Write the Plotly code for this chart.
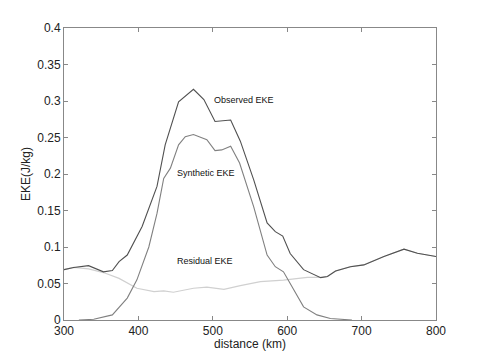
import plotly.graph_objects as go

obs_x = [300, 313, 333, 353, 365, 374, 385, 405, 425, 436, 454, 474, 488, 503, 524, 537, 555, 573, 584, 594, 604, 622, 645, 654, 665, 685, 703, 730, 757, 775, 800]
obs_y = [0.069, 0.072, 0.0745, 0.066, 0.0677, 0.080, 0.089, 0.128, 0.183, 0.240, 0.299, 0.316, 0.302, 0.272, 0.274, 0.245, 0.192, 0.133, 0.121, 0.115, 0.091, 0.069, 0.058, 0.0595, 0.067, 0.073, 0.0755, 0.087, 0.097, 0.0914, 0.087]

syn_x = [320, 340, 365, 374, 385, 398, 414, 425, 434, 443, 454, 463, 474, 492, 503, 512, 524, 536, 555, 573, 584, 595, 609, 622, 640, 658, 687]
syn_y = [0.0, 0.001, 0.007, 0.018, 0.030, 0.055, 0.100, 0.146, 0.194, 0.208, 0.240, 0.251, 0.254, 0.247, 0.232, 0.233, 0.238, 0.215, 0.155, 0.089, 0.073, 0.066, 0.041, 0.018, 0.007, 0.002, 0.0]

res_x = [300, 313, 333, 353, 374, 398, 421, 434, 447, 474, 492, 515, 537, 564, 595, 627, 645, 654, 665, 685, 703, 730, 757, 775, 800]
res_y = [0.069, 0.072, 0.0700, 0.065, 0.057, 0.0435, 0.039, 0.040, 0.038, 0.0435, 0.045, 0.042, 0.047, 0.0525, 0.0545, 0.0585, 0.0585, 0.0595, 0.067, 0.073, 0.0755, 0.087, 0.097, 0.0914, 0.087]

x_ticks = [300, 400, 500, 600, 700, 800]
y_ticks = [0, 0.05, 0.1, 0.15, 0.2, 0.25, 0.3, 0.35, 0.4]
y_labels = ["0", "0.05", "0.1", "0.15", "0.2", "0.25", "0.3", "0.35", "0.4"]

labels = ["Observed EKE", "Synthetic EKE", "Residual EKE"]
label_x = [499, 449, 449]
label_y = [0.302, 0.202, 0.081]

FONT = "Liberation Sans, Arial"

fig = go.Figure()
fig.add_trace(go.Scatter(x=res_x, y=res_y, mode="lines", line=dict(color="#d0d0d0", width=1.2), showlegend=False))
fig.add_trace(go.Scatter(x=syn_x, y=syn_y, mode="lines", line=dict(color="#808080", width=1.1), showlegend=False))
fig.add_trace(go.Scatter(x=obs_x, y=obs_y, mode="lines", line=dict(color="#505050", width=1.1), showlegend=False))

for t, lx, ly in zip(labels, label_x, label_y):
    fig.add_annotation(x=lx, y=ly, text=t, showarrow=False, xanchor="left", yanchor="middle",
                       font=dict(family=FONT, size=9, color="#111"))

# x-axis title placed close under the tick labels, as in the reference
fig.add_annotation(x=0.5, y=0, xref="paper", yref="paper", yshift=-24, text="distance (km)",
                   showarrow=False, xanchor="center", yanchor="middle",
                   font=dict(family=FONT, size=12, color="#222"))

axis_common = dict(showgrid=False, zeroline=False, showline=True, linecolor="#888", linewidth=1,
                   mirror="ticks", ticks="inside", ticklen=4, tickcolor="#888", automargin=False,
                   tickfont=dict(family=FONT, size=12, color="#222"))

fig.update_xaxes(range=[300, 800], tickvals=x_ticks, ticktext=[str(v) for v in x_ticks], **axis_common)
fig.update_yaxes(range=[0, 0.4], tickvals=y_ticks, ticktext=y_labels,
                 title=dict(text="EKE(J/kg)", standoff=4, font=dict(family=FONT, size=12, color="#222")),
                 **axis_common)

fig.update_layout(width=480, height=360, margin=dict(l=56, r=52, t=20, b=48),
                  plot_bgcolor="white", paper_bgcolor="white")

fig.write_html("out.html")
